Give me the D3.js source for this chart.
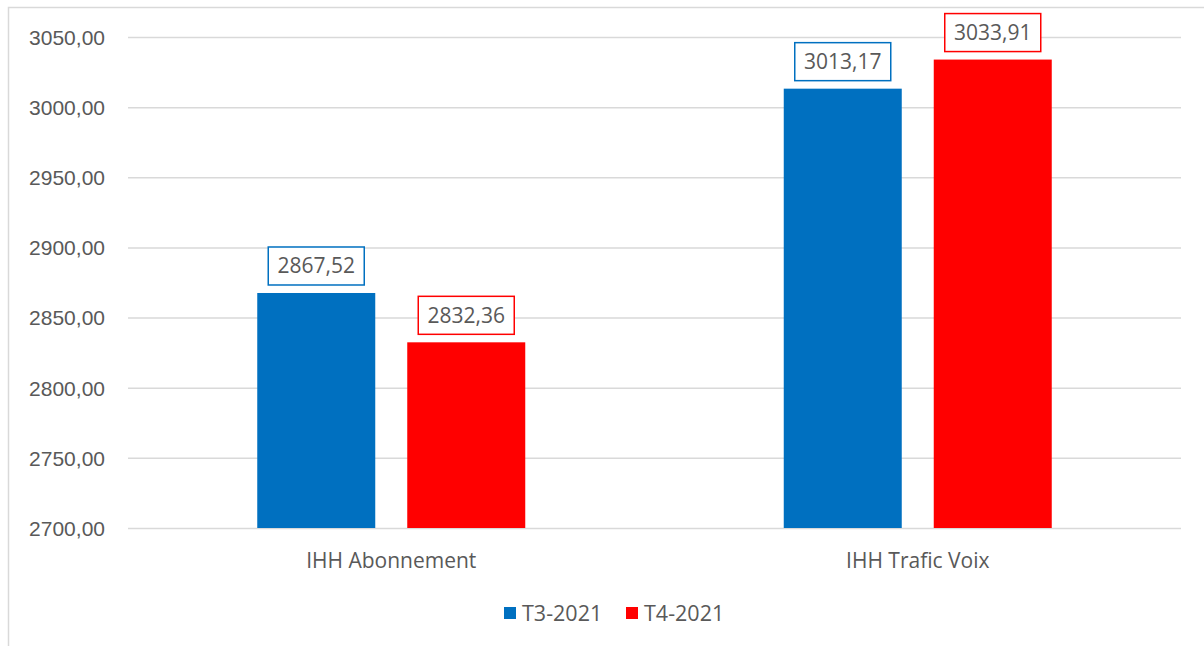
<!DOCTYPE html>
<html>
<head>
<meta charset="utf-8">
<script src="https://cdn.jsdelivr.net/npm/d3@7"></script>
<style>
  html, body { margin: 0; padding: 0; background: #fff; }
  svg { display: block; font-family: "Open Sans", "Noto Sans", sans-serif; }
</style>
</head>
<body>
<svg id="chart" width="1204" height="646"></svg>
<script>
// Indices IHH, T3 vs T4 2021
const categories = ["IHH Abonnement", "IHH Trafic Voix"];
const seriesNames = ["T3-2021", "T4-2021"];
const seriesColors = ["#0070C0", "#FF0000"];
const t3Values = [2867.52, 3013.17];
const t4Values = [2832.36, 3033.91];
const yTicks = [2700, 2750, 2800, 2850, 2900, 2950, 3000, 3050];

const svg = d3.select("#chart");
const W = 1204, H = 646;

// outer chart frame
svg.append("rect")
  .attr("x", 8.5).attr("y", 7.5)
  .attr("width", W + 10).attr("height", H + 10)
  .attr("fill", "none").attr("stroke", "#d9d9d9").attr("stroke-width", 1.5);

const plot = { left: 128, right: 1181, top: 37, bottom: 528 };

const y = d3.scaleLinear().domain([2700, 3050]).range([plot.bottom, plot.top]);
const x0 = d3.scaleBand().domain(categories).range([plot.left, plot.right]).paddingInner(0).paddingOuter(0);
const barW = 118, gap = 32;
const x1 = d3.scaleBand().domain(seriesNames)
  .range([0, barW * 2 + gap]).paddingInner(gap / (barW + gap)).paddingOuter(0);

const fmt = v => d3.format(".2f")(v).replace(".", ",");

// gridlines + y tick labels
const yAxis = d3.axisLeft(y).tickValues(yTicks).tickSize(-(plot.right - plot.left)).tickFormat(fmt);
const gy = svg.append("g").attr("transform", `translate(${plot.left},0)`).call(yAxis);
gy.select(".domain").remove();
gy.selectAll(".tick line").attr("stroke", "#d9d9d9").attr("stroke-width", 1.5);
gy.selectAll(".tick text").attr("fill", "#595959").attr("font-size", 21).attr("x", -23).attr("dy", "0.35em");

// category labels
const xAxis = d3.axisBottom(x0).tickSize(0).tickPadding(25);
const gx = svg.append("g").attr("transform", `translate(0,${plot.bottom})`).call(xAxis);
gx.select(".domain").remove();
gx.selectAll(".tick text").attr("fill", "#595959").attr("font-size", 21).attr("font-family", '"Open Sans", sans-serif');

const rows = categories.map((c, i) => ({ cat: c, vals: [t3Values[i], t4Values[i]] }));

const groups = svg.append("g").selectAll("g").data(rows).join("g")
  .attr("transform", d => `translate(${x0(d.cat) + (x0.bandwidth() - (barW * 2 + gap)) / 2},0)`);

const items = groups.selectAll("g.bar").data(d => d.vals.map((v, k) => ({ v, k, s: seriesNames[k] })))
  .join("g").attr("class", "bar");

items.append("rect")
  .attr("x", d => x1(d.s)).attr("width", x1.bandwidth())
  .attr("y", d => y(d.v)).attr("height", d => plot.bottom - y(d.v))
  .attr("fill", d => seriesColors[d.k]);

// value callouts
const boxW = 96, boxH = 38;
items.append("rect")
  .attr("x", d => x1(d.s) + x1.bandwidth() / 2 - boxW / 2)
  .attr("y", d => y(d.v) - 8 - boxH)
  .attr("width", boxW).attr("height", boxH)
  .attr("fill", "#fff").attr("stroke", d => seriesColors[d.k]).attr("stroke-width", 1.5);
items.append("text")
  .attr("x", d => x1(d.s) + x1.bandwidth() / 2)
  .attr("y", d => y(d.v) - 8 - boxH / 2)
  .attr("dy", "0.35em").attr("text-anchor", "middle")
  .attr("fill", "#595959").attr("font-size", 21)
  .text(d => fmt(d.v));

// legend
const legend = svg.append("g").attr("transform", "translate(504,613)");
const legendX = [0, 122];
seriesNames.forEach((s, k) => {
  const g = legend.append("g").attr("transform", `translate(${legendX[k]},0)`);
  g.append("rect").attr("x", 0).attr("y", -6).attr("width", 12).attr("height", 12).attr("fill", seriesColors[k]);
  g.append("text").attr("x", 18).attr("y", 0).attr("dy", "0.35em")
    .attr("fill", "#595959").attr("font-size", 21.5).text(s);
});
</script>
</body>
</html>
